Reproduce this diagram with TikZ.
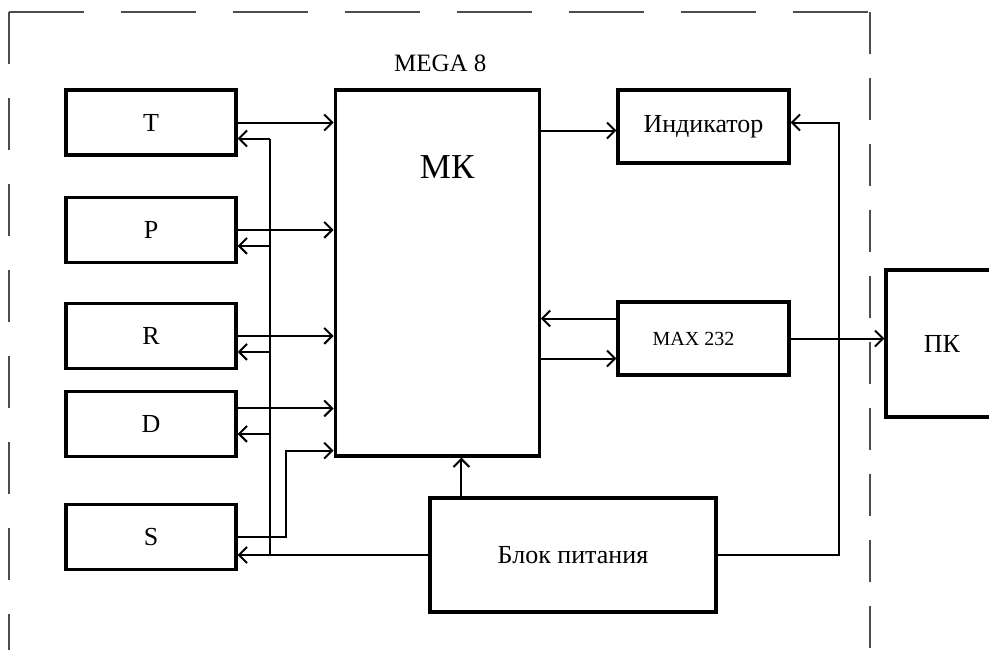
\documentclass[tikz,border=0pt]{standalone}
\usepackage{fontspec}
\setmainfont{Liberation Serif}
\usetikzlibrary{arrows.meta, positioning}

\begin{document}
\begin{tikzpicture}[x=0.5pt, y=-0.5pt,
    node distance=19.6pt and 48pt,
    blk/.style={draw, line width=1.6pt, minimum width=85pt, minimum height=32.5pt,
                inner sep=0pt, align=center, font=\fontsize{13}{15}\selectfont},
    arr/.style={-{Straight Barb[length=4pt, width=8pt]}, line width=1pt},
    wire/.style={line width=1pt},
    frame/.style={draw=black!70, line width=0.6pt}
]
    \useasboundingbox (0,0) rectangle (989,650);
    \clip (0,0) rectangle (989,650);

    % Device frame
    \draw[frame, dash pattern=on 37.5pt off 18.5pt] (9,12) -- (870,12);
    \draw[frame, dash pattern=on 26pt off 17pt] (9,12) -- (9,650);
    \draw[frame, dash pattern=on 21pt off 12pt] (870,12) -- (870,650);

    % Sensors
    \node[blk] (t) at (151,122.5) {T};
    \node[blk, below=of t] (p) {P};
    \node[blk, below=18.9pt of p] (r) {R};
    \node[blk, below=9.9pt of r] (d) {D};
    \node[blk, below=22.4pt of d] (s) {S};

    % Microcontroller
    \node[blk, minimum width=102pt, minimum height=183pt, anchor=north west,
          label={[label distance=5pt, xshift=1.5pt,
                  font=\fontsize{12.5}{15}\selectfont]above:MEGA 8},
          label={[anchor=center, xshift=5pt, yshift=-39.5pt,
                  font=\fontsize{17.5}{20}\selectfont]north:МК}]
         (mk) at ([xshift=48pt]t.north east) {};

    % Indicator, MAX 232, PC, power supply
    \node[blk, minimum width=85.5pt, minimum height=36.5pt] (ind) at (703.5,126.5) {Индикатор};
    \node[blk, minimum width=85.5pt, minimum height=36.5pt,
          font=\fontsize{10}{12}\selectfont] (max) at (703.5,338.5) {\hspace*{-10pt}MAX 232};
    \node[blk, minimum width=56pt, minimum height=73.5pt] (pc) at (942,343.5) {ПК};
    \node[blk, minimum width=143pt, minimum height=57pt] (bp) at (573,555) {Блок питания};

    % Sensors to MK
    \draw[arr] (t.east) -- (t.east -| mk.west);
    \draw[arr] (p.east) -- (p.east -| mk.west);
    \draw[arr] (r.east) -- (r.east -| mk.west);
    \draw[arr] ([yshift=7.75pt]d.east) -- ([yshift=7.75pt]d.east -| mk.west);
    \draw[arr] (s.east) -- ++(24pt,0) |- ([yshift=3.5pt]mk.south west);

    % Supply bus
    \coordinate (bus) at ([xshift=16pt]s.east);
    \draw[arr] (bp.west) -- (bp.west -| s.east);
    \draw[wire] (bp.west -| bus) -- ([yshift=-8pt]t.east -| bus);
    \foreach \n/\dy in {t/-8pt, p/-8pt, r/-8pt, d/-5pt}
        \draw[arr] ([yshift=\dy]\n.east -| bus) -- ([yshift=\dy]\n.east);

    % MK to indicator and MAX 232
    \draw[arr] ([yshift=-2pt]ind.west -| mk.east) -- ([yshift=-2pt]ind.west);
    \draw[arr] ([yshift=10pt]max.west) -- ([yshift=10pt]max.west -| mk.east);
    \draw[arr] ([yshift=-10pt]max.west -| mk.east) -- ([yshift=-10pt]max.west);
    \draw[arr] (max.east) -- (max.east -| pc.west);

    % Power supply
    \draw[arr] ([xshift=16.5pt]bp.north west) -- ([xshift=16.5pt]bp.north west |- mk.south);
    \draw[arr] (bp.east) -- ++(60.5pt,0) |- ([yshift=2pt]ind.east);
\end{tikzpicture}
\end{document}
